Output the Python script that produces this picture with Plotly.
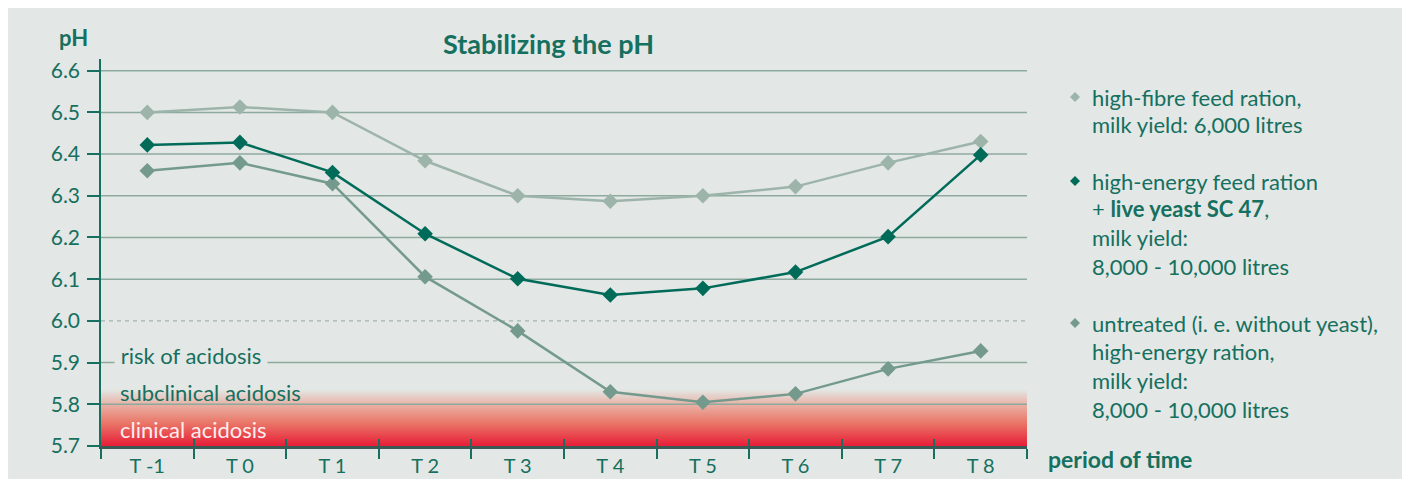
import plotly.graph_objects as go

categories = ["T -1", "T 0", "T 1", "T 2", "T 3", "T 4", "T 5", "T 6", "T 7", "T 8"]
high_fibre = [6.50, 6.513, 6.50, 6.384, 6.30, 6.287, 6.30, 6.322, 6.379, 6.43]
high_energy_yeast = [6.422, 6.428, 6.356, 6.209, 6.101, 6.062, 6.078, 6.117, 6.202, 6.398]
untreated = [6.360, 6.379, 6.329, 6.106, 5.976, 5.830, 5.805, 5.825, 5.885, 5.928]
y_ticks = [5.7, 5.8, 5.9, 6.0, 6.1, 6.2, 6.3, 6.4, 6.5, 6.6]

OFF = 8  # page body margin
W, H = 1402, 471
L, R, T, B = 101, 1027, 59, 446   # screen pixel positions of plot area
YMIN, YMAX = 5.7, 6.628

def px(x):
    return (x - L) / (R - L)

def py(y):
    return (B - y) / (B - T)

BG = "#e3e7e5"
TEAL = "#15705f"
C_FIBRE = "#9db4ab"
C_YEAST = "#006b59"
C_UNTR = "#749a8e"
GRID = "#8eaa9f"
FONT = "Lato"

xs = list(range(len(categories)))

fig = go.Figure()
for vals, col in [(high_fibre, C_FIBRE), (untreated, C_UNTR), (high_energy_yeast, C_YEAST)]:
    fig.add_trace(go.Scatter(x=xs, y=vals, mode="lines+markers",
                             line=dict(color=col, width=2.5),
                             marker=dict(symbol="diamond", size=12, color=col),
                             showlegend=False, hoverinfo="skip"))
fig.add_trace(go.Scatter(x=[xs[0]], y=[YMIN], xaxis="x2", yaxis="y", mode="markers",
                         marker=dict(opacity=0), showlegend=False, hoverinfo="skip"))

shapes = []
def lerp(a, b, t):
    return tuple(int(round(a[i] + (b[i] - a[i]) * t)) for i in range(3))
stops = [(5.835, (227, 231, 229)), (5.80, (233, 178, 166)), (5.755, (233, 118, 104)), (5.70, (232, 30, 56))]
N = 70
top, bot = stops[0][0], stops[-1][0]
for i in range(N, 0, -1):
    y1 = bot + (top - bot) * i / N
    ym = y1 - (top - bot) / (2 * N)
    c = stops[-1][1]
    for j in range(len(stops) - 1):
        a, b = stops[j], stops[j + 1]
        if b[0] <= ym <= a[0]:
            c = lerp(a[1], b[1], (a[0] - ym) / (a[0] - b[0]))
            break
    shapes.append(dict(type="rect", xref="paper", yref="y", x0=0, x1=1, y0=bot, y1=y1,
                       fillcolor="rgb(%d,%d,%d)" % c, line=dict(width=0), layer="below"))
for v in y_ticks:
    if abs(v - 5.7) < 1e-9:
        continue
    if abs(v - 6.0) < 1e-9:
        shapes.append(dict(type="line", xref="paper", yref="y", x0=0, x1=1, y0=v, y1=v,
                           line=dict(color="#a3b5ae", width=1.3, dash="4px,4px"), layer="below"))
    else:
        shapes.append(dict(type="line", xref="paper", yref="y", x0=0, x1=1, y0=v, y1=v,
                           line=dict(color=GRID, width=1.5), layer="below"))

for yy, col in [(97, C_FIBRE), (181, C_YEAST), (323, C_UNTR)]:
    shapes.append(dict(type="path", xref="paper", yref="paper", xsizemode="pixel", ysizemode="pixel",
                       xanchor=px(1075), yanchor=py(yy),
                       path="M -5 0 L 0 5 L 5 0 L 0 -5 Z", fillcolor=col, line=dict(width=0)))

ann = []
def text(x, y, s, size=22, color=TEAL, xanchor="left", bg=None, bold=False):
    d = dict(x=px(x), y=py(y), xref="paper", yref="paper", text=("<b>%s</b>" % s) if bold else s,
             showarrow=False, xanchor=xanchor, yanchor="middle",
             font=dict(family=FONT, size=size, color=color))
    if bg:
        d["bgcolor"] = bg
        d["borderpad"] = 0
    ann.append(d)

text(548, 44, "Stabilizing the pH", size=27, xanchor="center", bold=True)
text(57, 37, "pH", size=22, bold=True)
text(1046, 459, "period of time", size=23, bold=True)

legend_lines = [
    (97, "high-fibre feed ration,"),
    (124, "milk yield: 6,000 litres"),
    (181, "high-energy feed ration"),
    (208, "+ <b>live yeast SC 47</b>,"),
    (237, "milk yield:"),
    (266, "8,000 - 10,000 litres"),
    (323, "untreated (i. e. without yeast),"),
    (351, "high-energy ration,"),
    (380, "milk yield:"),
    (409, "8,000 - 10,000 litres"),
]
for yy, s in legend_lines:
    text(1090, yy, s, size=22)

text(114, 355, " risk of acidosis ", size=22, bg=BG)
text(118, 392, "subclinical acidosis", size=22)
text(118, 429, "clinical acidosis", size=22, color="#fdeeee")

fig.update_layout(
    width=W, height=H,
    margin=dict(l=L - OFF, r=W - (R - OFF), t=T - OFF, b=H - (B - OFF), pad=0),
    paper_bgcolor=BG, plot_bgcolor="rgba(0,0,0,0)",
    shapes=shapes, annotations=ann,
    xaxis=dict(range=[-0.5, len(categories) - 0.5], tickvals=xs, ticktext=categories,
               ticks="", showgrid=False, zeroline=False, automargin=False,
               showline=True, linecolor="#3c5a55", linewidth=2.5,
               tickfont=dict(family=FONT, size=20, color=TEAL),
               minor=dict(tickmode="linear", tick0=-0.5, dtick=1, ticks="outside",
                          ticklen=10, tickcolor=TEAL, tickwidth=1.5, showgrid=False)),
    xaxis2=dict(range=[-0.5, len(categories) - 0.5], overlaying="x", side="bottom",
                tickmode="linear", tick0=-0.5, dtick=1, ticks="inside", ticklen=7,
                tickcolor=TEAL, tickwidth=1.5, showticklabels=False, showgrid=False,
                zeroline=False, showline=False, automargin=False),
    yaxis=dict(range=[YMIN, YMAX], tickvals=y_ticks, ticktext=["%.1f" % v for v in y_ticks],
               ticks="outside", ticklen=12, tickcolor=TEAL, tickwidth=1.5, automargin=False,
               ticklabelstandoff=3,
               showgrid=False, zeroline=False, showline=True, linecolor=TEAL, linewidth=1.5,
               tickfont=dict(family=FONT, size=21, color=TEAL)),
    hovermode=False,
)

fig.write_html("out.html")
